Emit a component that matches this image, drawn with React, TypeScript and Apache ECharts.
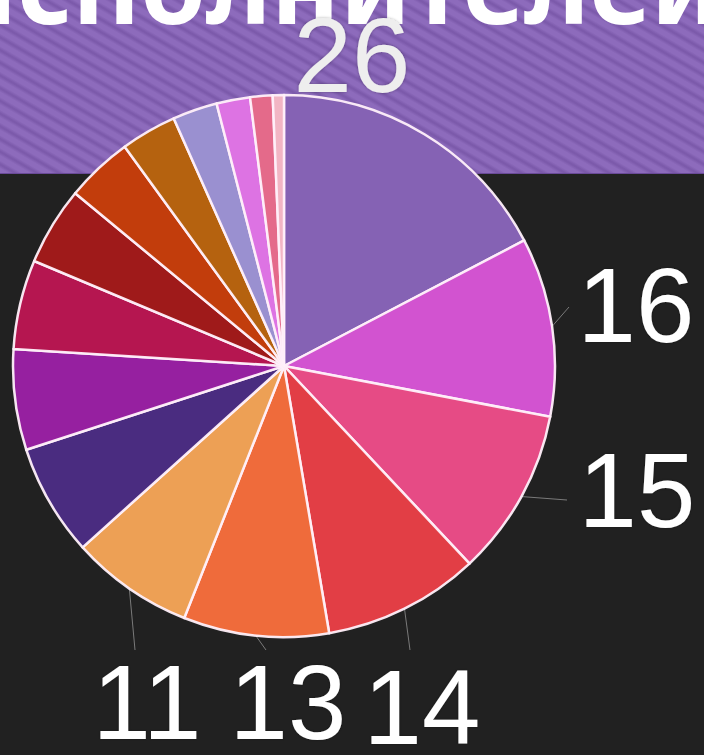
import React, { useEffect, useRef } from "react";
import * as echarts from "echarts";

// ---- data ----
const titleText = "исполнителей";
const sliceValues = [26, 16, 15, 14, 13, 11, 10, 9, 8, 7, 6, 5, 4, 3, 2, 1];
const sliceColors = [
  "#8562b4", "#d253d0", "#e64b85", "#e23e45", "#ef6b3b", "#eda055",
  "#4a2c80", "#9620a0", "#b51650", "#9f1a1a", "#c23d0c", "#b5620f",
  "#9a90d0", "#dd73e3", "#e46a8a", "#f2b5c4",
];
const labelledSlices = [0, 1, 2, 3, 4, 5];

// ---- layout (not data) ----
const labelSpots: Record<number, { x: number; y: number; end: number[] | null }> = {
  0: { x: 352, y: 55, end: null },
  1: { x: 636, y: 305, end: [569, 307] },
  2: { x: 637, y: 490, end: [567, 500] },
  3: { x: 422, y: 707, end: [410, 650] },
  4: { x: 288, y: 702, end: [266, 650] },
  5: { x: 147, y: 702, end: [135, 650] },
};

export default function App() {
  const ref = useRef<HTMLDivElement>(null);
  useEffect(() => {
    document.body.style.margin = "0";
    const chart = echarts.init(ref.current!, null, { renderer: "svg" });
    const data = sliceValues.map((v, i) => {
      const show = labelledSlices.indexOf(i) >= 0;
      return {
        value: v,
        name: String(v),
        itemStyle: { color: sliceColors[i] },
        label: { show, color: i === 0 ? "#eeeeee" : "#ffffff" },
        labelLine: { show: show && i !== 0 },
      };
    });
    chart.setOption({
      animation: false,
      backgroundColor: "transparent",
      graphic: [
        {
          type: "text",
          x: 334,
          y: -17,
          z: 1,
          style: {
            text: titleText,
            fill: "#ffffff",
            font: '700 105px "Noto Sans", sans-serif',
            align: "center",
            verticalAlign: "middle",
            shadowColor: "rgba(0,0,0,0.45)",
            shadowBlur: 4,
            shadowOffsetX: 2,
            shadowOffsetY: 2,
          },
        },
      ],
      series: [
        {
          type: "pie",
          z: 3,
          center: [284, 366],
          radius: 271,
          startAngle: 90,
          clockwise: true,
          avoidLabelOverlap: false,
          itemStyle: { borderColor: "rgba(255,240,250,0.95)", borderWidth: 2.5 },
          label: {
            position: "outside",
            formatter: "{b}",
            color: "#ffffff",
            fontSize: 105,
            fontFamily: '"Liberation Sans", Arial, sans-serif',
            fontWeight: "normal",
            textShadowColor: "rgba(0,0,0,0.3)",
            textShadowBlur: 3,
          },
          labelLine: { show: true, length: 10, length2: 10, lineStyle: { color: "#7a7a7a", width: 1 } },
          labelLayout: (p: any) => {
            const s = labelSpots[p.dataIndex];
            if (!s) return {};
            const out: any = { x: s.x, y: s.y, align: "center", verticalAlign: "middle" };
            if (s.end && p.labelLinePoints) {
              out.labelLinePoints = [p.labelLinePoints[0], s.end, s.end];
            }
            return out;
          },
          data,
        },
      ],
    });
    return () => chart.dispose();
  }, []);
  return (
    <div
      style={{
        position: "fixed",
        left: 0,
        top: 0,
        width: 704,
        height: 755,
        background: "#212121",
      }}
    >
      <div
        style={{
          position: "absolute",
          left: 0,
          top: 0,
          width: 704,
          height: 174,
          borderBottom: "1px solid #6a4a98",
          boxSizing: "border-box",
          background:
            "repeating-linear-gradient(30deg, #8d6bbc 0px, #8d6bbc 4px, #7c5aab 7px, #7c5aab 8px, #8d6bbc 11px)",
        }}
      />
      <div ref={ref} style={{ position: "absolute", left: 0, top: 0, width: 704, height: 755 }} />
    </div>
  );
}
